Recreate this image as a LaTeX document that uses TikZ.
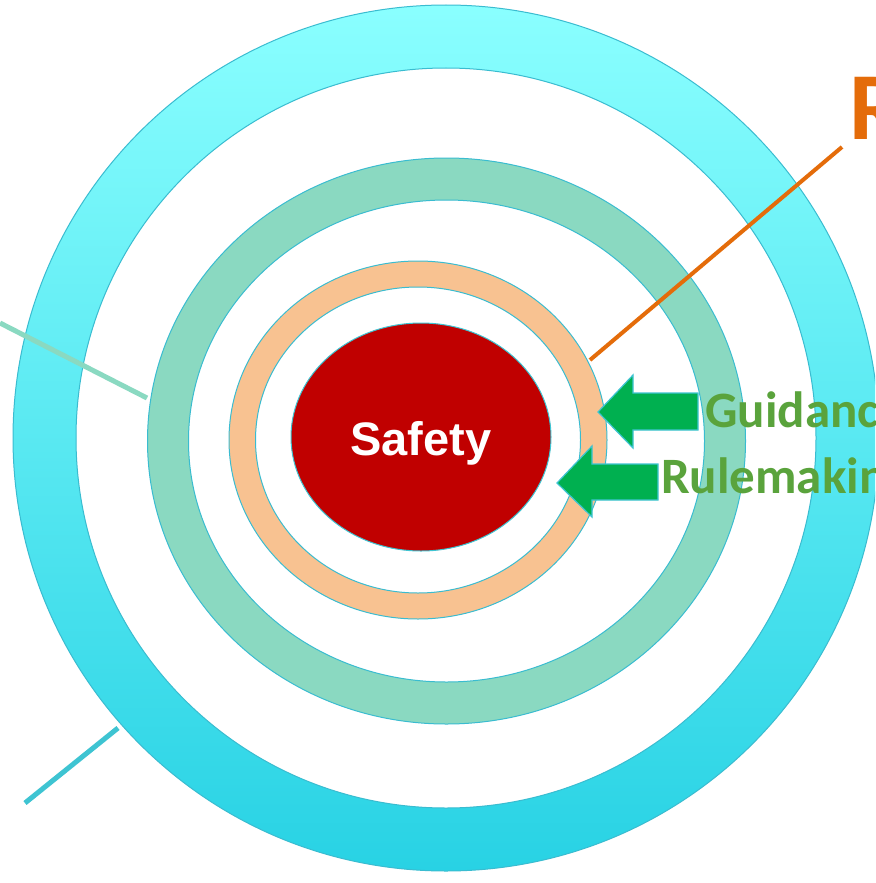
\documentclass[tikz,border=0pt]{standalone}
\usepackage{fontspec}
\usetikzlibrary{shapes.geometric}
\setmainfont{Liberation Sans}
\newfontfamily\calfont{Carlito}
\definecolor{cyanTop}{RGB}{138,255,255}
\definecolor{cyanBot}{RGB}{40,210,228}
\definecolor{ringEdge}{RGB}{58,188,208}
\definecolor{greenRing}{RGB}{138,217,193}
\definecolor{orangeRing}{RGB}{248,194,145}
\definecolor{safetyRed}{RGB}{192,0,0}
\definecolor{arrowGreen}{RGB}{0,176,80}
\definecolor{textGreen}{RGB}{90,163,60}
\definecolor{lineOrange}{RGB}{228,108,10}
\definecolor{lineCyan}{RGB}{62,196,210}
\begin{document}
\begin{tikzpicture}[x=1pt,y=-1pt,
  ringedge/.style={draw=ringEdge, line width=1pt},
  pointer/.style={fill=arrowGreen, draw=lineCyan, line width=1.2pt, line join=miter},
  leader/.style={line width=5pt, line cap=butt},
  label/.style={font=\calfont\bfseries\fontsize{51}{51}\selectfont, text=textGreen, anchor=base west, inner sep=0pt}]
\useasboundingbox (0,0) rectangle (875,883);
\clip (0,0) rectangle (875,883);
\fill[white] (0,0) rectangle (875,883);
% outer cyan ring
\path[even odd rule, top color=cyanTop, bottom color=cyanBot] (446,438) ellipse (433 and 433) (446,438) ellipse (370 and 370);
\draw[ringedge] (446,438) ellipse (433 and 433) (446,438) ellipse (370 and 370);
% green ring
\path[even odd rule, fill=greenRing, ringedge] (446.5,441) ellipse (299 and 283) (446.5,441) ellipse (258 and 241);
% orange ring
\path[even odd rule, fill=orangeRing, ringedge] (418,440) ellipse (189 and 179) (418,440) ellipse (162.5 and 153);
% centre
\node[ellipse, minimum width=260pt, minimum height=228pt, fill=safetyRed, draw=lineCyan, line width=1pt, inner sep=0pt] (safety) at (421,437) {};
\node[font=\bfseries\fontsize{47}{47}\selectfont, text=white] (safetytext) at (421,443) {Safety};
% leader lines
\coordinate (oA) at (590,360); \coordinate (oB) at (842,147);
\draw[leader, line width=4pt, lineOrange] (oA) -- (oB);
\coordinate (gA) at (0,323); \coordinate (gB) at (147,398);
\draw[leader, greenRing] (gA) -- (gB);
\coordinate (cA) at (25,803); \coordinate (cB) at (118,728);
\draw[leader, lineCyan] (cA) -- (cB);
% arrows
\draw[pointer] (598,412) -- (633,375) -- (633,393) -- (698,393) -- (698,430) -- (633,430) -- (633,448) -- cycle;
\draw[pointer] (557,483) -- (592,446) -- (592,464) -- (658,464) -- (658,500) -- (592,500) -- (592,517) -- cycle;
% labels
\node[label] (guid) at (705,427) {Guidance};
\node[label] (rule) at (661,493) {Rulemaking};
\node[label, text=lineOrange, font=\calfont\bfseries\fontsize{96}{96}\selectfont] (reg) at (849,139) {R};
\end{tikzpicture}
\end{document}
